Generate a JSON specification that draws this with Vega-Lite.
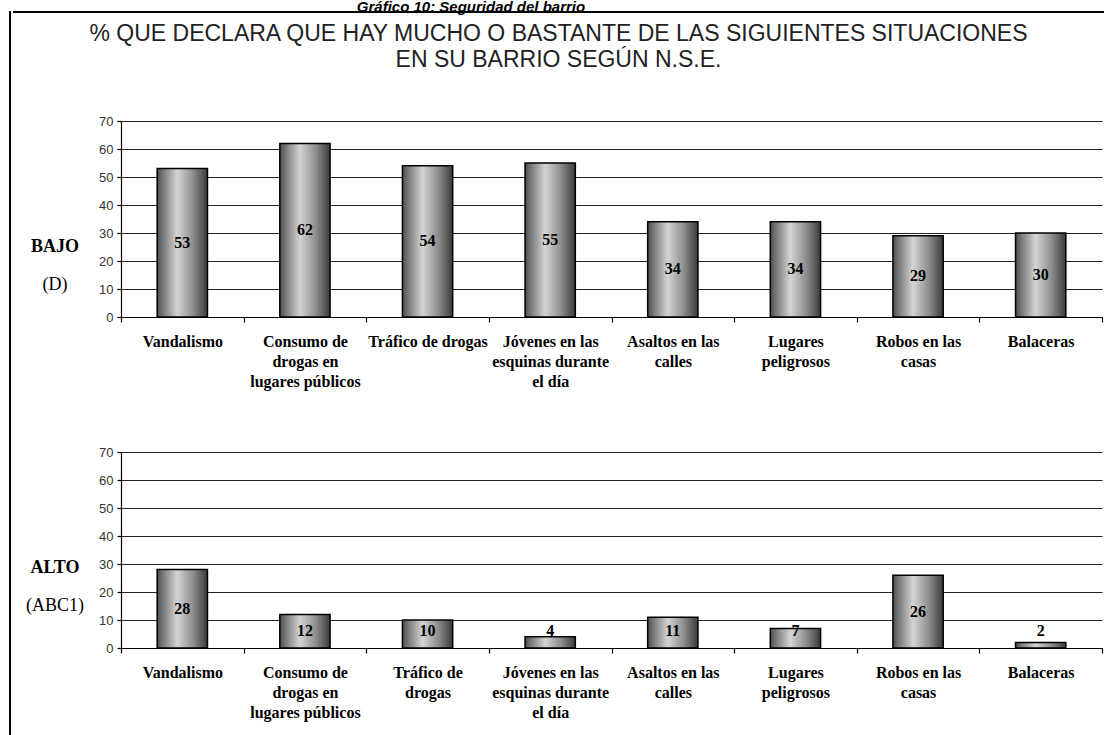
{
  "$schema": "https://vega.github.io/schema/vega-lite/v6.json",
  "padding": {"left": 9, "top": 0, "right": 0, "bottom": 0},
  "background": "white",
  "title": {"text": "Gráfico 10: Seguridad del barrio", "font": "Liberation Sans", "fontSize": 15, "fontStyle": "italic", "fontWeight": "bold", "color": "#000", "anchor": "middle", "dx": -86, "offset": -4},
  "config": {"view": {"stroke": null}},
  "datasets": {
    "bajo": [
      {"cat": "Vandalismo", "v": 53},
      {"cat": "Consumo de|drogas en|lugares públicos", "v": 62},
      {"cat": "Tráfico de drogas", "v": 54},
      {"cat": "Jóvenes en las|esquinas durante|el día", "v": 55},
      {"cat": "Asaltos en las|calles", "v": 34},
      {"cat": "Lugares|peligrosos", "v": 34},
      {"cat": "Robos en las|casas", "v": 29},
      {"cat": "Balaceras", "v": 30}
    ],
    "alto": [
      {"cat": "Vandalismo", "v": 28},
      {"cat": "Consumo de|drogas en|lugares públicos", "v": 12},
      {"cat": "Tráfico de|drogas", "v": 10},
      {"cat": "Jóvenes en las|esquinas durante|el día", "v": 4},
      {"cat": "Asaltos en las|calles", "v": 11},
      {"cat": "Lugares|peligrosos", "v": 7},
      {"cat": "Robos en las|casas", "v": 26},
      {"cat": "Balaceras", "v": 2}
    ],
    "lab1": [{"nse": "BAJO", "sub": "(D)"}],
    "lab2": [{"nse": "ALTO", "sub": "(ABC1)"}]
  },
  "spacing": 0.001,
  "hconcat": [
    {
      "width": 0.001,
      "height": 722,
      "view": {"stroke": "black", "strokeWidth": 2},
      "data": {"values": []},
      "mark": {"type": "text", "text": ""},
      "encoding": {}
    },
    {
      "spacing": 42,
      "vconcat": [
        {
          "width": 1091,
          "height": 20,
          "view": {"stroke": "black", "strokeWidth": 2, "strokeDash": [1091, 1300]},
          "title": {"text": ["% QUE DECLARA QUE HAY MUCHO O BASTANTE DE LAS SIGUIENTES SITUACIONES", "EN SU BARRIO SEGÚN N.S.E."], "orient": "bottom", "baseline": "top", "font": "Liberation Sans", "fontSize": 23, "fontWeight": "normal", "color": "#222", "anchor": "middle", "offset": -9, "lineHeight": 26},
          "data": {"values": []},
          "mark": {"type": "text", "text": ""},
          "encoding": {}
        },
        {
          "spacing": 57,
          "vconcat": [
            {
              "spacing": 1,
              "hconcat": [
                {
                  "width": 84,
                  "height": 196,
                  "data": {"name": "lab1"},
                  "transform": [{"calculate": "[datum.nse, '']", "as": "l1"}, {"calculate": "['', datum.sub]", "as": "l2"}],
                  "encoding": {
                    "y": {"field": "nse", "type": "nominal", "scale": {"type": "point", "align": 0.643}, "axis": null}
                  },
                  "layer": [
                    {"mark": {"type": "text", "font": "Liberation Serif", "fontSize": 18, "fontWeight": "bold", "color": "black", "baseline": "middle", "lineHeight": 38}, "encoding": {"text": {"field": "l1"}}},
                    {"mark": {"type": "text", "font": "Liberation Serif", "fontSize": 18, "fontWeight": "normal", "color": "black", "baseline": "middle", "lineHeight": 38}, "encoding": {"text": {"field": "l2"}}}
                  ]
                },
                {
                  "width": 981,
                  "height": 196,
                  "data": {"name": "bajo"},
                  "encoding": {
                    "x": {"field": "cat", "type": "nominal", "sort": null, "scale": {"paddingInner": 0, "paddingOuter": 0},
                      "axis": {"title": null, "labelAngle": 0, "labelExpr": "split(datum.label, '|')", "labelFont": "Liberation Serif", "labelFontWeight": "bold", "labelFontSize": 16, "labelLineHeight": 20, "labelColor": "black", "labelPadding": 11, "tickBand": "extent", "tickSize": 5, "tickColor": "black", "tickWidth": 1.2, "domainColor": "black", "domainWidth": 1.2, "grid": false, "labelLimit": 250}}
                  },
                  "layer": [
                    {
                      "mark": {"type": "bar", "width": {"band": 0.41}, "stroke": "black", "strokeWidth": 1.5, "fill": {"gradient": "linear", "x1": 0, "y1": 0, "x2": 1, "y2": 0, "stops": [{"offset": 0, "color": "#4d4d4d"}, {"offset": 0.12, "color": "#7a7a7a"}, {"offset": 0.4, "color": "#d4d4d4"}, {"offset": 0.72, "color": "#8c8c8c"}, {"offset": 1, "color": "#3a3a3a"}]}},
                      "encoding": {
                        "y": {"field": "v", "type": "quantitative", "scale": {"domain": [0, 70]},
                          "axis": {"title": null, "values": [0, 10, 20, 30, 40, 50, 60, 70], "grid": true, "gridColor": "#222", "gridWidth": 1.2, "domainColor": "black", "domainWidth": 1.2, "tickColor": "black", "tickSize": 4, "tickWidth": 1.2, "labelFont": "Liberation Sans", "labelFontSize": 13, "labelColor": "#333", "labelPadding": 4, "labelOverlap": false}}
                      }
                    },
                    {
                      "transform": [{"calculate": "max(datum.v / 2, 6)", "as": "pos"}],
                      "mark": {"type": "text", "font": "Liberation Serif", "fontWeight": "bold", "fontSize": 16, "color": "black", "baseline": "middle"},
                      "encoding": {
                        "y": {"field": "pos", "type": "quantitative", "scale": {"domain": [0, 70]},
                          "axis": {"title": null, "values": [0, 10, 20, 30, 40, 50, 60, 70], "grid": true, "gridColor": "#222", "gridWidth": 1.2, "domainColor": "black", "domainWidth": 1.2, "tickColor": "black", "tickSize": 4, "tickWidth": 1.2, "labelFont": "Liberation Sans", "labelFontSize": 13, "labelColor": "#333", "labelPadding": 4, "labelOverlap": false}},
                        "text": {"field": "v", "type": "quantitative"}
                      }
                    }
                  ]
                }
              ]
            },
            {
              "spacing": 1,
              "hconcat": [
                {
                  "width": 84,
                  "height": 196,
                  "data": {"name": "lab2"},
                  "transform": [{"calculate": "[datum.nse, '']", "as": "l1"}, {"calculate": "['', datum.sub]", "as": "l2"}],
                  "encoding": {
                    "y": {"field": "nse", "type": "nominal", "scale": {"type": "point", "align": 0.592}, "axis": null}
                  },
                  "layer": [
                    {"mark": {"type": "text", "font": "Liberation Serif", "fontSize": 18, "fontWeight": "bold", "color": "black", "baseline": "middle", "lineHeight": 38}, "encoding": {"text": {"field": "l1"}}},
                    {"mark": {"type": "text", "font": "Liberation Serif", "fontSize": 18, "fontWeight": "normal", "color": "black", "baseline": "middle", "lineHeight": 38}, "encoding": {"text": {"field": "l2"}}}
                  ]
                },
                {
                  "width": 981,
                  "height": 196,
                  "data": {"name": "alto"},
                  "encoding": {
                    "x": {"field": "cat", "type": "nominal", "sort": null, "scale": {"paddingInner": 0, "paddingOuter": 0},
                      "axis": {"title": null, "labelAngle": 0, "labelExpr": "split(datum.label, '|')", "labelFont": "Liberation Serif", "labelFontWeight": "bold", "labelFontSize": 16, "labelLineHeight": 20, "labelColor": "black", "labelPadding": 11, "tickBand": "extent", "tickSize": 5, "tickColor": "black", "tickWidth": 1.2, "domainColor": "black", "domainWidth": 1.2, "grid": false, "labelLimit": 250}}
                  },
                  "layer": [
                    {
                      "mark": {"type": "bar", "width": {"band": 0.41}, "stroke": "black", "strokeWidth": 1.5, "fill": {"gradient": "linear", "x1": 0, "y1": 0, "x2": 1, "y2": 0, "stops": [{"offset": 0, "color": "#4d4d4d"}, {"offset": 0.12, "color": "#7a7a7a"}, {"offset": 0.4, "color": "#d4d4d4"}, {"offset": 0.72, "color": "#8c8c8c"}, {"offset": 1, "color": "#3a3a3a"}]}},
                      "encoding": {
                        "y": {"field": "v", "type": "quantitative", "scale": {"domain": [0, 70]},
                          "axis": {"title": null, "values": [0, 10, 20, 30, 40, 50, 60, 70], "grid": true, "gridColor": "#222", "gridWidth": 1.2, "domainColor": "black", "domainWidth": 1.2, "tickColor": "black", "tickSize": 4, "tickWidth": 1.2, "labelFont": "Liberation Sans", "labelFontSize": 13, "labelColor": "#333", "labelPadding": 4, "labelOverlap": false}}
                      }
                    },
                    {
                      "transform": [{"calculate": "max(datum.v / 2, 6)", "as": "pos"}],
                      "mark": {"type": "text", "font": "Liberation Serif", "fontWeight": "bold", "fontSize": 16, "color": "black", "baseline": "middle"},
                      "encoding": {
                        "y": {"field": "pos", "type": "quantitative", "scale": {"domain": [0, 70]},
                          "axis": {"title": null, "values": [0, 10, 20, 30, 40, 50, 60, 70], "grid": true, "gridColor": "#222", "gridWidth": 1.2, "domainColor": "black", "domainWidth": 1.2, "tickColor": "black", "tickSize": 4, "tickWidth": 1.2, "labelFont": "Liberation Sans", "labelFontSize": 13, "labelColor": "#333", "labelPadding": 4, "labelOverlap": false}},
                        "text": {"field": "v", "type": "quantitative"}
                      }
                    }
                  ]
                }
              ]
            }
          ]
        }
      ]
    }
  ]
}
